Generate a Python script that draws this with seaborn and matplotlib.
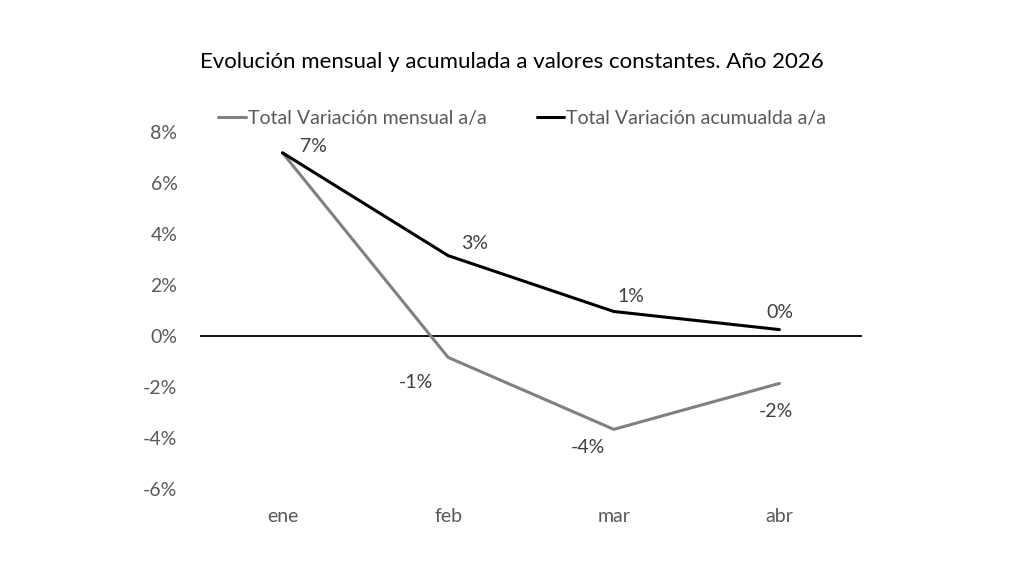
import matplotlib
matplotlib.use("Agg")
import matplotlib.pyplot as plt
import seaborn as sns
import pandas as pd
from matplotlib.ticker import FuncFormatter
from matplotlib.lines import Line2D

meses = ["ene", "feb", "mar", "abr"]
serie_mensual = "Total Variación mensual a/a"
serie_acumulada = "Total Variación acumualda a/a"
valores_mensual = [7.18, -0.84, -3.66, -1.86]
valores_acumulada = [7.18, 3.15, 0.96, 0.25]
titulo = "Evolución mensual y acumulada a valores constantes. Año 2026"

sns.set_theme(style="white")
plt.rcParams['font.family'] = ['Lato', 'DejaVu Sans']

df = pd.DataFrame({
    "mes": meses * 2,
    "valor": valores_mensual + valores_acumulada,
    "serie": [serie_mensual] * 4 + [serie_acumulada] * 4,
})

fig = plt.figure(figsize=(10.24, 5.76), dpi=100)
ax = fig.add_axes([0.195, 0.151, 0.647, 0.62])

sns.lineplot(data=df, x="mes", y="valor", hue="serie", sort=False,
             palette={serie_mensual: "#808080", serie_acumulada: "#000000"},
             linewidth=2.2, ax=ax, legend=False)

ax.axhline(0, color="black", linewidth=1.3, zorder=1)
ax.set_xlim(-0.5, 3.5)
ax.set_ylim(-6, 8)
ax.set_yticks(range(-6, 9, 2))
ax.yaxis.set_major_formatter(FuncFormatter(lambda v, p: f"{int(v)}%"))
ax.set_xlabel("")
ax.set_ylabel("")
for s in ax.spines.values():
    s.set_visible(False)
fs = 14
ax.tick_params(axis="y", length=0, pad=16, labelsize=fs, labelcolor="#595959")
ax.tick_params(axis="x", length=0, pad=14, labelsize=fs, labelcolor="#595959")
ax.grid(False)

off_acum = [(31, 6), (26, 12), (17, 15), (0, 17)]
off_mens = [None, (-32, -25), (-26, -18), (-4, -28)]
for i, v in enumerate(valores_acumulada):
    ax.annotate(f"{round(v):.0f}%", (i, v), xytext=off_acum[i], textcoords="offset pixels",
                ha="center", va="center", fontsize=fs, color="#404040")
for i, v in enumerate(valores_mensual):
    if off_mens[i] is None:
        continue
    ax.annotate(f"{round(v):.0f}%", (i, v), xytext=off_mens[i], textcoords="offset pixels",
                ha="center", va="center", fontsize=fs, color="#404040")

handles = [Line2D([], [], color="#808080", linewidth=2.2),
           Line2D([], [], color="#000000", linewidth=2.2)]
fig.legend(handles, [serie_mensual, serie_acumulada], loc="center",
           bbox_to_anchor=(0.51, 0.795), ncol=2, frameon=False, fontsize=fs,
           handlelength=1.4, handletextpad=0.1, columnspacing=2.6,
           labelcolor="#595959")

fig.suptitle(titulo, x=0.5, y=0.91, fontsize=16, color="black")

fig.savefig("out.png", dpi=100)
